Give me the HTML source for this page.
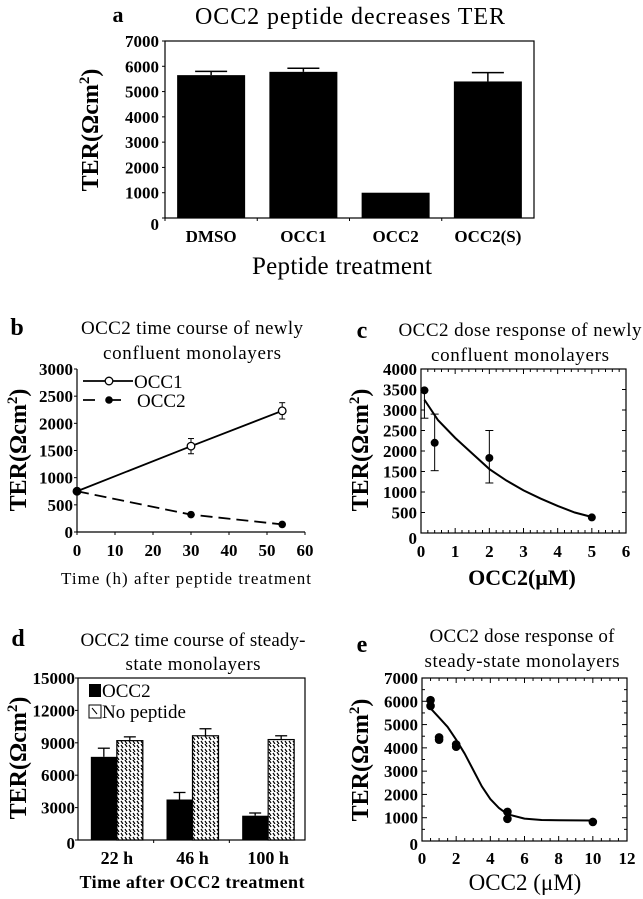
<!DOCTYPE html>
<html><head><meta charset="utf-8">
<style>
html,body{margin:0;padding:0;background:#fff;}
svg{display:block;font-family:"Liberation Serif",serif;}
</style></head>
<body>
<svg id="fig" width="643" height="899" viewBox="0 0 643 899" xmlns="http://www.w3.org/2000/svg">
<defs>
<pattern id="hatch" width="8" height="8" patternUnits="userSpaceOnUse">
<rect width="8" height="8" fill="#fff"/>
<path d="M1,1 L3,4 M5,5 L7,8 M5,0 L7,3 M1,5 L3,8" stroke="#000" stroke-width="1.2"/>
</pattern>
</defs>
<g id="root"></g>
</svg>
<script>
// ---- Panel a data ----
const aCats = ["DMSO","OCC1","OCC2","OCC2(S)"];
const aVals = [5650,5780,1000,5400];
const aErr = [5800,5920,1000,5750];
const aTicks = [0,1000,2000,3000,4000,5000,6000,7000];
// ---- Panel b data ----
const bTime = [0,30,54];
const bOcc1 = [750,1580,2230];
const bOcc1Err = [0,140,150];
const bOcc2 = [750,320,140];
const bYTicks = [0,500,1000,1500,2000,2500,3000];
const bXTicks = [0,10,20,30,40,50,60];
// ---- Panel c data ----
const cDose = [0.1,0.4,2,5];
const cVals = [3480,2200,1830,380];
const cLo = [2800,1520,1220,380];
const cHi = [3480,2900,2500,380];
const cFitX = [0.1,0.5,1,1.5,2,2.5,3,3.5,4,4.5,5];
const cFitY = [3250,2750,2320,1940,1560,1280,1040,840,660,500,390];
const cYTicks = [0,500,1000,1500,2000,2500,3000,3500,4000];
const cXTicks = [0,1,2,3,4,5,6];
// ---- Panel d data ----
const dCats = ["22 h","46 h","100 h"];
const dOcc2 = [7700,3750,2250];
const dOcc2Err = [8500,4400,2500];
const dNone = [9200,9650,9300];
const dNoneErr = [9550,10300,9650];
const dTicks = [0,3000,6000,9000,12000,15000];
// ---- Panel e data ----
const eDose = [0.5,0.5,1,1,2,2,5,5,10];
const eVals = [6050,5800,4450,4350,4150,4050,1250,950,820];
const eFitX = [0.5,1,1.5,2,2.5,3,3.5,4,4.5,5,6,7,8,10];
const eFitY = [5700,5300,4900,4350,3750,3050,2350,1800,1420,1150,960,900,890,880];
const eYTicks = [0,1000,2000,3000,4000,5000,6000,7000];
const eXTicks = [0,2,4,6,8,10,12];

const NS="http://www.w3.org/2000/svg";
const root=document.getElementById('root');
function mk(tag,attrs,parent){const e=document.createElementNS(NS,tag);for(const k in attrs)e.setAttribute(k,attrs[k]);(parent||root).appendChild(e);return e;}
function txt(s,x,y,size,opts,parent){opts=opts||{};const t=mk('text',{x:x,y:y,'font-size':size,'text-anchor':opts.anchor||'middle','font-weight':opts.bold?'bold':'normal'},parent);if(opts.len)t.setAttribute('textLength',opts.len);t.textContent=s;return t;}
function lin(d0,d1,r0,r1){return v=>r0+(v-d0)*(r1-r0)/(d1-d0);}

function yTitle(g,x,y){
  const t=mk('text',{x:x,y:y,'font-size':24,'font-weight':'bold','text-anchor':'middle',transform:'rotate(-90 '+x+' '+y+')'},g);
  
  
  t.appendChild(document.createTextNode('TER(Ωcm'));
  const s=mk('tspan',{'font-size':15,dy:-9},t);s.textContent='2';
  const s2=mk('tspan',{dy:9},t);s2.textContent=')';
}
const TK=17;

// ========== Panel a ==========
(function(){
  const g=mk('g',{});
  
  
  const L=165,R=534,T=41,B=218;
  const y=lin(0,7000,B,T);
  let t=txt('a',118,22,22,{bold:true},g);
  
  t=txt('OCC2 peptide decreases TER',350,24,24,{len:310},g);
  
  mk('rect',{x:L,y:T,width:R-L,height:B-T,fill:'none',stroke:'#000','stroke-width':1.2},g);
  aTicks.forEach(v=>{
    mk('line',{x1:L-3,x2:L,y1:y(v),y2:y(v),stroke:'#000'},g);
    const l=txt(String(v),L-6,y(v)+(v===0?12:6),TK,{anchor:'end',bold:true},g);
    
  });
  const bw=(R-L)/4;
  aCats.forEach((c,i)=>{
    const cx=L+bw*(i+0.5);
    mk('line',{x1:L+bw*i,x2:L+bw*i,y1:B,y2:B+3,stroke:'#000'},g);
    const b=mk('rect',{x:cx-34,y:y(aVals[i]),width:68,height:B-y(aVals[i]),fill:'#000'},g);
    
    
    if(aErr[i]>aVals[i]){
      mk('line',{x1:cx,x2:cx,y1:y(aVals[i]),y2:y(aErr[i]),stroke:'#000','stroke-width':1.5},g);
      mk('line',{x1:cx-16,x2:cx+16,y1:y(aErr[i]),y2:y(aErr[i]),stroke:'#000','stroke-width':1.5},g);
    }
    const l=txt(c,cx,242,17,{bold:true},g);
    
  });
  t=txt('Peptide treatment',342,274,25,{len:180},g);
  
  yTitle(g,98,130);
})();

// ========== Panel b ==========
(function(){
  const g=mk('g',{});
  
  
  const L=77,R=305,T=369,B=532;
  const x=lin(0,60,L,R),y=lin(0,3000,B,T);
  let t=txt('b',17,335,24,{bold:true},g);
  
  t=txt('OCC2 time course of newly',192,334,19,{len:222},g);
  
  txt('confluent monolayers',192,359,19,{len:178},g);
  mk('path',{d:`M${L},${T} V${B} H${R}`,fill:'none',stroke:'#000','stroke-width':1.2},g);
  bYTicks.forEach(v=>{
    mk('line',{x1:L-3,x2:L,y1:y(v),y2:y(v),stroke:'#000'},g);
    const l=txt(String(v),L-4,y(v)+6,TK,{anchor:'end',bold:true},g);
    
  });
  bXTicks.forEach(v=>{
    mk('line',{x1:x(v),x2:x(v),y1:B,y2:B+3,stroke:'#000'},g);
    const l=txt(String(v),x(v),556,TK,{bold:true},g);
    
  });
  const p1=mk('polyline',{points:bTime.map((v,i)=>x(v)+','+y(bOcc1[i])).join(' '),fill:'none',stroke:'#000','stroke-width':1.8},g);
  
  const p2=mk('polyline',{points:bTime.map((v,i)=>x(v)+','+y(bOcc2[i])).join(' '),fill:'none',stroke:'#000','stroke-width':1.8,'stroke-dasharray':'12,6'},g);
  
  bTime.forEach((v,i)=>{
    if(bOcc1Err[i]){
      mk('line',{x1:x(v),x2:x(v),y1:y(bOcc1[i]-bOcc1Err[i]),y2:y(bOcc1[i]+bOcc1Err[i]),stroke:'#000'},g);
      [bOcc1[i]-bOcc1Err[i],bOcc1[i]+bOcc1Err[i]].forEach(e=>mk('line',{x1:x(v)-3,x2:x(v)+3,y1:y(e),y2:y(e),stroke:'#000'},g));
    }
    const c1=mk('circle',{cx:x(v),cy:y(bOcc1[i]),r:3.8,fill:'#fff',stroke:'#000','stroke-width':1.3},g);
    
    const c2=mk('circle',{cx:x(v),cy:y(bOcc2[i]),r:3.8,fill:'#000'},g);
    
  });
  const lg=mk('g',{},g);
  
  mk('line',{x1:83,x2:133,y1:381,y2:381,stroke:'#000','stroke-width':1.8},lg);
  mk('circle',{cx:109,cy:381,r:3.8,fill:'#fff',stroke:'#000','stroke-width':1.3},lg);
  txt('OCC1',134,388,19,{anchor:'start'},lg);
  mk('line',{x1:83,x2:133,y1:400,y2:400,stroke:'#000','stroke-width':1.8,'stroke-dasharray':'12,14'},lg);
  mk('circle',{cx:109,cy:400,r:3.8,fill:'#000'},lg);
  txt('OCC2',137,407,19,{anchor:'start'},lg);
  t=txt('Time (h) after peptide treatment',186,584,17,{len:250},g);
  
  yTitle(g,26,450);
})();

// ========== Panel c ==========
(function(){
  const g=mk('g',{});
  
  
  const L=421,R=626,T=369,B=533;
  const x=lin(0,6,L,R),y=lin(0,4000,B,T);
  let t=txt('c',362,338,24,{bold:true},g);
  
  t=txt('OCC2 dose response of newly',520,336,19,{len:243},g);
  
  txt('confluent monolayers',520,361,19,{len:178},g);
  mk('rect',{x:L,y:T,width:R-L,height:B-T,fill:'none',stroke:'#000','stroke-width':1.2},g);
  cYTicks.forEach(v=>{
    [L,R].forEach((s,k)=>mk('line',{x1:s,x2:s+(k?-4:4),y1:y(v),y2:y(v),stroke:'#000'},g));
    const l=txt(String(v),L-4,y(v)+(v===0?11:6),TK,{anchor:'end',bold:true},g);
    
  });
  for(let v=0;v<=6.001;v+=0.2){
    const mj=Math.abs(v-Math.round(v))<0.01;
    [B,T].forEach((s,k)=>mk('line',{x1:x(v),x2:x(v),y1:s,y2:s+(k?1:-1)*(mj?5:3),stroke:'#000'},g));
  }
  cXTicks.forEach(v=>{
    const l=txt(String(v),x(v),557,TK,{bold:true},g);
    
  });
  const f=mk('polyline',{points:cFitX.map((v,i)=>x(v)+','+y(cFitY[i])).join(' '),fill:'none',stroke:'#000','stroke-width':2},g);
  
  cDose.forEach((v,i)=>{
    if(cHi[i]!==cLo[i]){
      mk('line',{x1:x(v),x2:x(v),y1:y(cLo[i]),y2:y(cHi[i]),stroke:'#000'},g);
      [cLo[i],cHi[i]].forEach(e=>mk('line',{x1:x(v)-4,x2:x(v)+4,y1:y(e),y2:y(e),stroke:'#000'},g));
    }
    const c=mk('circle',{cx:x(v),cy:y(cVals[i]),r:4,fill:'#000'},g);
    
  });
  t=txt('OCC2(μM)',522,585,22,{bold:true},g);
  
  yTitle(g,368,450);
})();

// ========== Panel d ==========
(function(){
  const g=mk('g',{});
  
  
  const L=78,R=305,T=678,B=840;
  const y=lin(0,15000,B,T);
  let t=txt('d',18,646,24,{bold:true},g);
  
  t=txt('OCC2 time course of steady-',193,646,19,{len:225},g);
  
  txt('state monolayers',193,670,19,{len:135},g);
  mk('rect',{x:L,y:T,width:R-L,height:B-T,fill:'none',stroke:'#000','stroke-width':1.2},g);
  dTicks.forEach(v=>{
    mk('line',{x1:L-3,x2:L,y1:y(v),y2:y(v),stroke:'#000'},g);
    const l=txt(String(v),L-3,y(v)+(v===0?9:6),TK,{anchor:'end',bold:true},g);
    
  });
  const gw=(R-L)/3;
  dCats.forEach((c,i)=>{
    const cx=L+gw*(i+0.5)+1;
    if(i>0)mk('line',{x1:L+gw*i,x2:L+gw*i,y1:B,y2:B+3,stroke:'#000'},g);
    const b1=mk('rect',{x:cx-26,y:y(dOcc2[i]),width:26,height:B-y(dOcc2[i]),fill:'#000'},g);
    
    const b2=mk('rect',{x:cx,y:y(dNone[i]),width:26,height:B-y(dNone[i]),fill:'url(#hatch)',stroke:'#000','stroke-width':1.2},g);
    
    [[cx-13,dOcc2[i],dOcc2Err[i]],[cx+13,dNone[i],dNoneErr[i]]].forEach(a=>{
      mk('line',{x1:a[0],x2:a[0],y1:y(a[1]),y2:y(a[2]),stroke:'#000','stroke-width':1.3},g);
      mk('line',{x1:a[0]-6,x2:a[0]+6,y1:y(a[2]),y2:y(a[2]),stroke:'#000','stroke-width':1.3},g);
    });
    const l=txt(c,cx,864,18,{bold:true},g);
    
  });
  const lg=mk('g',{},g);
  
  mk('rect',{x:89,y:684,width:12,height:13,fill:'#000'},lg);
  txt('OCC2',102,697,19,{anchor:'start'},lg);
  mk('rect',{x:89,y:705,width:12,height:13,fill:'#fff',stroke:'#000'},lg);
  mk('line',{x1:92,x2:97,y1:708,y2:714,stroke:'#000'},lg);
  txt('No peptide',102,718,19,{anchor:'start'},lg);
  t=txt('Time after OCC2 treatment',192,888,18,{bold:true,len:225},g);
  
  yTitle(g,26,758);
})();

// ========== Panel e ==========
(function(){
  const g=mk('g',{});
  
  
  const L=422,R=627,T=678,B=841;
  const x=lin(0,12,L,R),y=lin(0,7000,B,T);
  let t=txt('e',362,652,24,{bold:true},g);
  
  t=txt('OCC2 dose response of',522,642,19,{len:185},g);
  
  txt('steady-state monolayers',522,667,19,{len:195},g);
  mk('rect',{x:L,y:T,width:R-L,height:B-T,fill:'none',stroke:'#000','stroke-width':1.2},g);
  for(let v=0;v<=7000;v+=500){
    const mj=v%1000===0;
    [L,R].forEach((s,k)=>mk('line',{x1:s,x2:s+(k?-1:1)*(mj?5:3),y1:y(v),y2:y(v),stroke:'#000'},g));
  }
  eYTicks.forEach(v=>{
    const l=txt(String(v),L-4,y(v)+(v===0?9:6),TK,{anchor:'end',bold:true},g);
    
  });
  for(let v=0;v<=12.001;v+=0.5){
    const mj=Math.abs(v/2-Math.round(v/2))<0.01;
    [B,T].forEach((s,k)=>mk('line',{x1:x(v),x2:x(v),y1:s,y2:s+(k?1:-1)*(mj?5:3),stroke:'#000'},g));
  }
  eXTicks.forEach(v=>{
    const l=txt(String(v),x(v),864,TK,{bold:true},g);
    
  });
  const f=mk('polyline',{points:eFitX.map((v,i)=>x(v)+','+y(eFitY[i])).join(' '),fill:'none',stroke:'#000','stroke-width':2,'stroke-linejoin':'round'},g);
  
  eDose.forEach((v,i)=>{
    const c=mk('circle',{cx:x(v),cy:y(eVals[i]),r:4.3,fill:'#000'},g);
    
  });
  t=txt('OCC2 (μM)',525,890,23,{},g);
  
  yTitle(g,368,760);
})();
</script>
</body></html>
